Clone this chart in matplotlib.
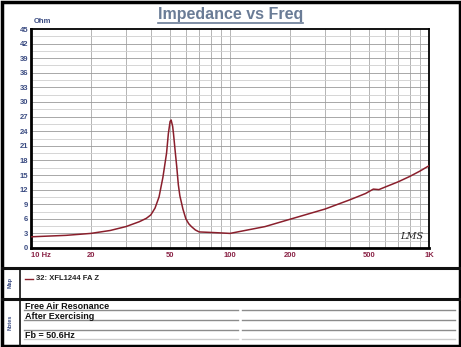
import matplotlib.pyplot as plt
import numpy as np
from matplotlib.patches import Rectangle
from matplotlib.lines import Line2D

# impedance sweep, free air
freq = [10, 15, 20, 25, 30, 35, 38, 40, 42, 44, 46, 48, 49, 50, 50.6, 51.5, 52, 53, 54,
        55, 56, 58, 60, 62, 64, 67, 70, 80, 90, 100, 150, 200, 300, 400, 480, 525, 560,
        600, 700, 800, 900, 1000]
ohm = [2.3, 2.6, 3.0, 3.6, 4.4, 5.4, 6.1, 6.8, 8.2, 10.5, 14.5, 19.5, 23.5, 26.0, 26.3,
       25.0, 23.5, 20.0, 16.7, 13.0, 10.7, 8.0, 6.0, 5.0, 4.4, 3.7, 3.3, 3.2, 3.1, 3.0,
       4.4, 5.9, 8.0, 9.9, 11.2, 12.1, 12.0, 12.5, 13.6, 14.7, 15.8, 16.9]

xticks = [10, 20, 50, 100, 200, 500, 1000]
xlabels = ['10 Hz', '20', '50', '100', '200', '500', '1K']
yticks = list(range(0, 46, 3))

notes = ['Free Air Resonance', 'After Exercising', '', 'Fb = 50.6Hz']
legend_label = '32: XFL1244 FA Z'

W, H = 461, 347
plt.rcParams['font.family'] = ['Liberation Sans', 'DejaVu Sans']
fig = plt.figure(figsize=(W / 100, H / 100), dpi=100)


def fx(px):
    return px / W


def fy(py):
    return 1 - py / H


ax = fig.add_axes([fx(31), fy(248), (429 - 31) / W, (248 - 29) / H])
ax.set_xscale('log')
ax.set_xlim(10, 1000)
ax.set_ylim(0, 45)

# grid: decades split by 1,2..9, rows every 1.5 ohm
vgrid = list(range(20, 100, 10)) + list(range(200, 1000, 100)) + [100]
for v in vgrid:
    ax.axvline(v, color='#a8a8a8', lw=0.6, zorder=1)
for h in np.arange(1.5, 45, 1.5):
    major = abs(h / 3 - round(h / 3)) < 1e-6
    ax.axhline(h, color='#9a9a9a' if major else '#cfcfcf', lw=0.6, zorder=1)

ax.plot(freq, ohm, color='#8a1f2c', lw=1.1, zorder=3)

ax.set_xticks(xticks)
ax.set_xticklabels(xlabels)
ax.xaxis.set_minor_locator(plt.NullLocator())
ax.set_yticks(yticks)
ax.tick_params(axis='x', length=0, pad=3, labelsize=5.5, labelcolor='#8a2346')
ax.tick_params(axis='y', length=0, pad=2, labelsize=5.5, labelcolor='#3b4c82')
for lab in ax.get_xticklabels() + ax.get_yticklabels():
    lab.set_fontweight('bold')
ax.get_xticklabels()[0].set_horizontalalignment('left')
for side in ['left', 'bottom']:
    ax.spines[side].set_linewidth(2)
for side in ['top', 'right']:
    ax.spines[side].set_linewidth(1.3)

ax.text(0.985, 0.03, 'LMS', transform=ax.transAxes, ha='right', va='bottom',
        fontsize=7, style='italic', family='DejaVu Serif', color='#222222')

fig.text(fx(34), fy(23), 'Ohm', fontsize=5.5, fontweight='bold', color='#3b4c82',
         ha='left', va='baseline')

# title with underline
title = fig.text(0.5, fy(19.5), 'Impedance vs Freq', ha='center', va='baseline',
                 fontsize=11.5, fontweight='bold', color='#6a7c96')
fig.canvas.draw()
bb = title.get_window_extent().transformed(fig.transFigure.inverted())
fig.add_artist(Line2D([bb.x0, bb.x1], [fy(22.5), fy(22.5)], color='#6a7c96', lw=1.2))

# outer frame and panels below the chart
fig.add_artist(Rectangle((fx(1.5), fy(345.5)), fx(458), (344) / H, fill=False,
                         edgecolor='black', lw=2.5))
for py in [268, 298.5]:
    fig.add_artist(Line2D([fx(1.5), fx(459.5)], [fy(py), fy(py)], color='#111111', lw=2.2))
fig.add_artist(Line2D([fx(19.5), fx(19.5)], [fy(268), fy(345.5)], color='#111111', lw=1.2))

fig.text(fx(10), fy(283), 'Map', rotation=90, ha='center', va='center', fontsize=4,
         fontweight='bold', color='#3b4c82')
fig.text(fx(10), fy(322), 'Notes', rotation=90, ha='center', va='center', fontsize=4,
         fontweight='bold', color='#3b4c82')

fig.add_artist(Line2D([fx(25), fx(33)], [fy(279), fy(279)], color='#8a1f2c', lw=1))
fig.text(fx(36), fy(279), legend_label, ha='left', va='center', fontsize=5.5,
         fontweight='bold', color='#222222')

line_y = [310, 320, 329.5, 338.5]
line_c = ['#8c8c8c', '#8c8c8c', '#8c8c8c', '#cccccc']
for txt, py, c in zip(notes, line_y, line_c):
    fig.add_artist(Line2D([fx(24), fx(238)], [fy(py), fy(py)], color=c, lw=1))
    fig.add_artist(Line2D([fx(242), fx(455)], [fy(py), fy(py)], color=c, lw=1))
    if txt:
        fig.text(fx(25), fy(py - 1), txt, ha='left', va='baseline', fontsize=6.5,
                 fontweight='bold', color='#111111')

fig.savefig('out.png', dpi=100)
